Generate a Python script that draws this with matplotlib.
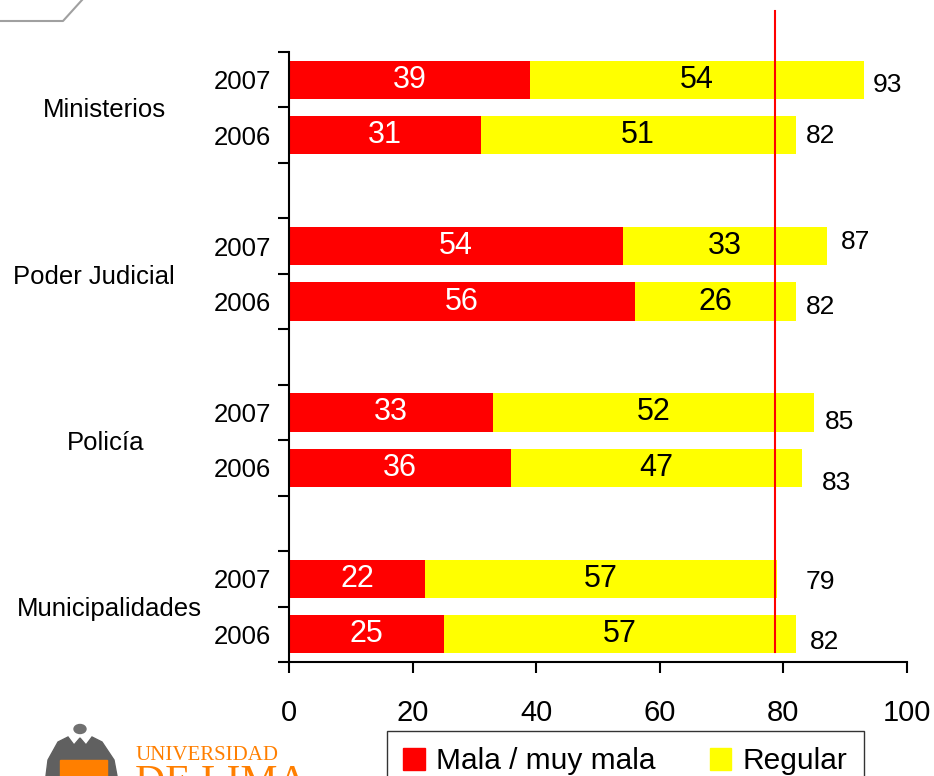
import matplotlib.pyplot as plt
from matplotlib.patches import Polygon, Rectangle, Ellipse
from matplotlib.lines import Line2D

plt.rcParams['font.family'] = ['Liberation Sans', 'DejaVu Sans']

groups = ['Ministerios', 'Poder Judicial', 'Policía', 'Municipalidades']
years = ['2007', '2006']
mala = [39, 31, 54, 56, 33, 36, 22, 25]
regular = [54, 51, 33, 26, 52, 47, 57, 57]
total = [93, 82, 87, 82, 85, 83, 79, 82]
ref_line = 78.6
legend_labels = ['Mala / muy mala', 'Regular']

RED = '#FF0000'
YELLOW = '#FFFF00'
ORANGE = '#FF7F00'

# slot positions: two bars per group, one empty slot between groups
pos = []
for g in range(len(groups)):
    pos += [g * 3, g * 3 + 1]

# offsets (pixels) of the total labels from the bar end
tot_dx = [9, 10, 14, 10, 11, 20, 28, 14]
tot_dy = [-5, -1, 4, -5, -10, -15, -3, -8]
group_x = [-0.298, -0.316, -0.296, -0.290]

fig = plt.figure(figsize=(9.34, 7.76), dpi=100)
ax = fig.add_axes([289 / 934, 1 - 662 / 776, (907 - 289) / 934, (662 - 52) / 776])

ax.barh(pos, mala, height=0.69, color=RED, zorder=2)
ax.barh(pos, regular, left=mala, height=0.69, color=YELLOW, zorder=2)

for i, p in enumerate(pos):
    ax.text(mala[i] / 2, p, str(mala[i]), color='white', fontsize=22,
            ha='center', va='center', zorder=4)
    ax.text(mala[i] + regular[i] / 2, p, str(regular[i]), color='black', fontsize=22,
            ha='center', va='center', zorder=4)
    ax.annotate(str(total[i]), xy=(mala[i] + regular[i], p),
                xytext=(tot_dx[i], tot_dy[i]), textcoords='offset pixels',
                ha='left', va='center', fontsize=19)

ax.set_xlim(0, 100)
ax.set_ylim(10.5, -0.5)

ax.plot([ref_line, ref_line], [-1.24, 10.32], color=RED, lw=1.5, zorder=5, clip_on=False)

ax.set_xticks([0, 20, 40, 60, 80, 100])
ax.tick_params(axis='x', labelsize=21, length=8, width=1.5, pad=18.5, direction='out')
ax.set_yticks(pos)
ax.set_yticklabels(years * len(groups))
ax.tick_params(axis='y', which='major', length=0, labelsize=18.5, pad=13)
ax.set_yticks([x - 0.5 for x in range(12)], minor=True)
ax.tick_params(axis='y', which='minor', length=8, width=1.5, direction='out')

for g, name in enumerate(groups):
    ax.text(group_x[g], g * 3 + 0.55, name, transform=ax.get_yaxis_transform(),
            ha='center', va='center', fontsize=18.5)

for s in ['top', 'right']:
    ax.spines[s].set_visible(False)
for s in ['left', 'bottom']:
    ax.spines[s].set_linewidth(1.5)

handles = [Rectangle((0, 0), 1, 1, color=RED), Rectangle((0, 0), 1, 1, color=YELLOW)]
fig.legend(handles, legend_labels, loc='upper left', bbox_to_anchor=(387 / 934, 1 - 731 / 776),
           ncol=2, fontsize=21.5, frameon=True, fancybox=False, edgecolor='black',
           handlelength=0.72, handleheight=0.72, handletextpad=0.38, columnspacing=1.8,
           borderpad=0.55, borderaxespad=0)

# top-left decoration
fig.add_artist(Line2D([0, 63 / 934, 82 / 934], [1 - 21 / 776, 1 - 21 / 776, 1.0],
                      transform=fig.transFigure, color='#A0A0A0', lw=1.5))

# logo at bottom left
W, H = 934, 776
fig.add_artist(Ellipse((80 / W, 1 - 729 / H), 12 / W, 9 / H, transform=fig.transFigure,
                       color='#707070'))
fig.add_artist(Polygon([(46 / W, 0), (48 / W, 1 - 760 / H), (58 / W, 1 - 742 / H),
                        (68 / W, 1 - 737 / H), (74 / W, 1 - 745 / H), (80 / W, 1 - 738 / H),
                        (86 / W, 1 - 745 / H), (92 / W, 1 - 737 / H), (102 / W, 1 - 742 / H),
                        (114 / W, 1 - 760 / H), (117 / W, 0)],
                       closed=True, transform=fig.transFigure, color='#606060'))
fig.add_artist(Rectangle((60 / W, 0), 47 / W, 16 / H, transform=fig.transFigure,
                         color=ORANGE))
fig.text(135 / W, 1 - 755 / H, 'UNIVERSIDAD', color=ORANGE, fontsize=15,
         family='Liberation Serif', va='center', ha='left')
fig.text(135 / W, 1 - 764 / H, 'DE LIMA', color=ORANGE, fontsize=30,
         family='Liberation Serif', va='top', ha='left')

fig.savefig('out.png', dpi=100)
